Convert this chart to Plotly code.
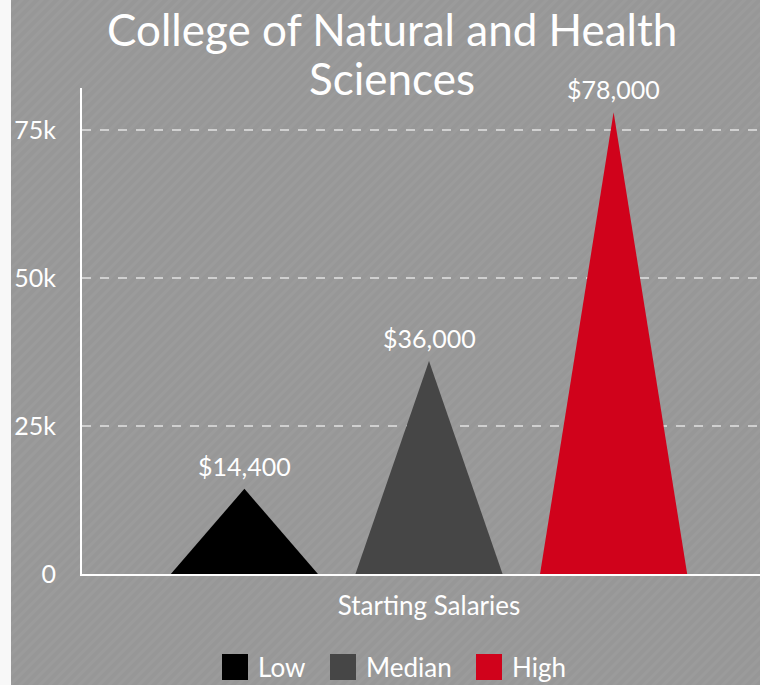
import base64
import plotly.graph_objects as go

# data
category = "Starting Salaries"
series_names = ["Low", "Median", "High"]
salaries = [14400, 36000, 78000]
colors = ["#000000", "#464646", "#d0021b"]
y_ticks = [0, 25000, 50000, 75000]
y_ticktext = ["0", "25k", "50k", "75k"]
title_lines = ["College of Natural and Health", "Sciences"]

W, H = 760, 685
L, R, T, B = 82, 0, 88, 111
PW, PH = W - L - R, H - T - B

FONT = "Lato, 'Open Sans', sans-serif"

# peak shape geometry (fraction of the category width)
spacing = 0.266
half_width = 0.106

fig = go.Figure()

for i, (name, val, col) in enumerate(zip(series_names, salaries, colors)):
    c = (i - 1) * spacing
    fig.add_trace(go.Scatter(
        x=[c - half_width, c, c + half_width],
        y=[0, val, 0],
        mode="lines",
        fill="toself",
        fillcolor=col,
        line=dict(width=0, color=col),
        name=name,
        showlegend=False,
        hoverinfo="skip",
    ))
    fig.add_annotation(
        x=c, y=val, text=f"${val:,}", showarrow=False,
        yanchor="bottom", yshift=6,
        font=dict(family=FONT, size=25, color="white"),
    )

# striped background as an svg pattern
svg = (
    f'<svg xmlns="http://www.w3.org/2000/svg" width="{W}" height="{H}">'
    '<defs><pattern id="p" width="7" height="7" patternUnits="userSpaceOnUse" '
    'patternTransform="rotate(45)">'
    '<rect width="7" height="7" fill="#979797"/>'
    '<rect width="3" height="7" fill="#9b9b9b"/></pattern></defs>'
    f'<rect width="{W}" height="{H}" fill="url(#p)"/></svg>'
)
src = "data:image/svg+xml;base64," + base64.b64encode(svg.encode()).decode()


def px(x):
    return (x - L) / PW


def py(y):
    return 1 - (y - T) / PH


fig.add_layout_image(
    source=src, xref="paper", yref="paper",
    x=px(0), y=py(0), sizex=W / PW, sizey=H / PH,
    xanchor="left", yanchor="top", sizing="stretch", layer="below",
)

# white page strip on the far left (clips the tick labels)
fig.add_shape(
    type="rect", xref="paper", yref="paper",
    x0=px(0), x1=px(11), y0=py(H), y1=py(0),
    fillcolor="rgba(255,255,255,0.93)", line_width=0, layer="above",
)

# title, one annotation per wrapped line
for line, yc in zip(title_lines, [29, 78]):
    fig.add_annotation(
        xref="paper", yref="paper", x=px(392), y=py(yc),
        text=line, showarrow=False,
        xanchor="center", yanchor="middle",
        font=dict(family=FONT, size=44, color="white"),
    )

# custom legend
legend_sq = [222, 330, 476]
for name, col, x0 in zip(series_names, colors, legend_sq):
    fig.add_shape(
        type="rect", xref="paper", yref="paper",
        x0=px(x0), x1=px(x0 + 26), y0=py(680), y1=py(654),
        fillcolor=col, line_width=0, layer="above",
    )
    fig.add_annotation(
        xref="paper", yref="paper", x=px(x0 + 34), y=py(667),
        text=name, showarrow=False, xanchor="left", yanchor="middle",
        font=dict(family=FONT, size=26, color="white"),
    )

fig.update_layout(
    width=W, height=H,
    margin=dict(l=L, r=R, t=T, b=B),
    paper_bgcolor="#979797",
    plot_bgcolor="rgba(0,0,0,0)",
    showlegend=False,
    xaxis=dict(
        range=[-0.5, -0.5 + PW / 694],
        tickvals=[0], ticktext=[category],
        showgrid=False, zeroline=False,
        showline=True, linecolor="white", linewidth=2,
        ticks="", ticklabelstandoff=8,
        tickfont=dict(family=FONT, size=26, color="white"),
    ),
    yaxis=dict(
        range=[0, 75000 * (574 - 88) / (574 - 130)],
        tickvals=y_ticks, ticktext=y_ticktext,
        showgrid=True, gridcolor="rgba(225,225,225,0.75)", griddash="dash", gridwidth=1.5,
        zeroline=False,
        showline=True, linecolor="white", linewidth=2,
        ticks="", ticklabelstandoff=19,
        tickfont=dict(family=FONT, size=25, color="white"),
    ),
)

fig.write_html(
    "out.html",
    config={"displayModeBar": False},
    post_script="document.body.style.margin='0';",
)
